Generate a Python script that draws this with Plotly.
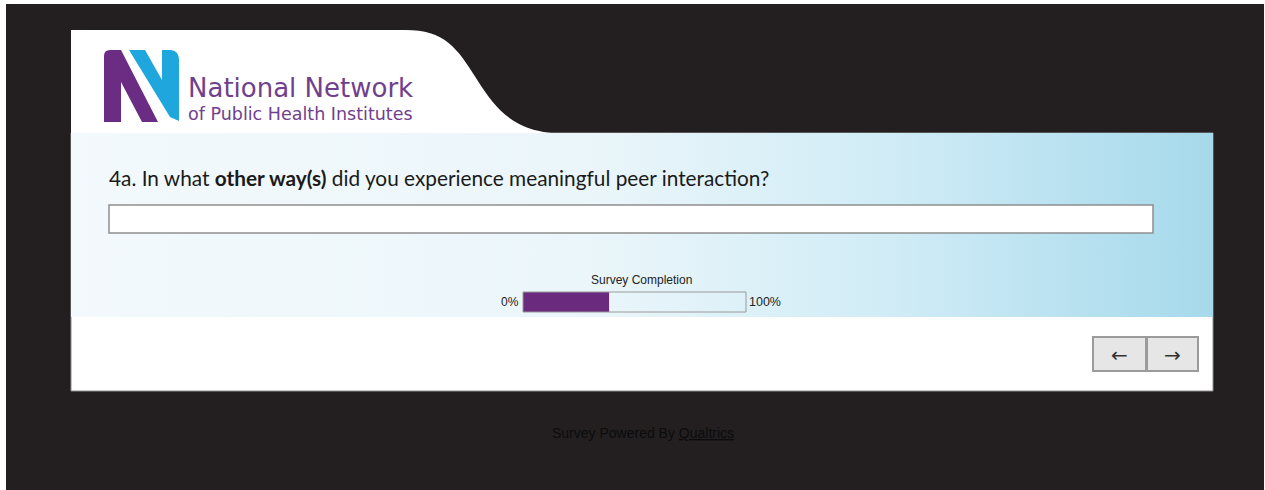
import plotly.graph_objects as go

W, H = 1265, 490

# ---- data / text ----
question_text = "4a. In what <b>other way(s)</b> did you experience meaningful peer interaction?"
logo_title = "National Network"
logo_subtitle = "of Public Health Institutes"
progress_title = "Survey Completion"
progress_labels = ["0%", "100%"]
completion_pct = [38.6]
progress_row = [0]
nav_buttons = ["\u2190", "\u2192"]
footer_text = "Survey Powered By <u>Qualtrics</u>"

DARK = "#231f20"
PURPLE = "#6a2a7e"
LOGO_PURPLE = "#6b2c83"
LOGO_BLUE = "#1fa6dc"

fig = go.Figure()

# gradient question band
fig.add_trace(go.Scatter(
    x=[71, 1213, 1213, 71, 71], y=[133, 133, 317, 317, 133],
    mode="lines", line=dict(width=0), fill="toself",
    fillgradient=dict(type="horizontal",
                      colorscale=[[0, "#f3f9fc"], [0.45, "#ebf6fa"],
                                  [0.72, "#d0ecf6"], [1, "#a6d9eb"]]),
    hoverinfo="skip", showlegend=False, xaxis="x", yaxis="y"))

# progress bar
fig.add_trace(go.Bar(
    x=completion_pct, y=progress_row, orientation="h", width=1,
    marker=dict(color=PURPLE, line=dict(width=0)),
    hoverinfo="skip", showlegend=False, xaxis="x2", yaxis="y2"))

shapes = []
# dark page
shapes.append(dict(type="rect", x0=6, x1=1264, y0=4, y1=490, fillcolor=DARK,
                   line=dict(width=0), layer="below", xref="x", yref="y"))
# white panel lower part
shapes.append(dict(type="rect", x0=71, x1=1213, y0=133, y1=391, fillcolor="white",
                   line=dict(color="#8c8c8c", width=1), layer="below", xref="x", yref="y"))
# white panel header with S-curve
shapes.append(dict(type="path",
                   path="M 71,30 L 405,30 C 445,30 457,48 476,78 C 500,116 518,134 572,134 L 71,134 Z",
                   fillcolor="white", line=dict(width=0), layer="below", xref="x", yref="y"))
# logo: purple N
shapes.append(dict(type="path",
                   path="M 104,56 Q 104,50 110,50 L 121,50 L 158,122 L 142,122 L 121,82 L 121,122 L 104,122 Z",
                   fillcolor=LOGO_PURPLE, line=dict(width=0), layer="below", xref="x", yref="y"))
# logo: blue N
shapes.append(dict(type="path",
                   path="M 129,50 L 145,50 L 162,80 L 162,50 L 171,50 Q 179,51 179,60 L 179,121 L 170,117 Z",
                   fillcolor=LOGO_BLUE, line=dict(width=0), layer="below", xref="x", yref="y"))
# text entry box
shapes.append(dict(type="rect", x0=109, x1=1153, y0=205, y1=233, fillcolor="white",
                   line=dict(color="#8e8e8e", width=1.5), layer="above", xref="x", yref="y"))
# progress bar box
shapes.append(dict(type="rect", x0=0, x1=1, y0=0, y1=1, xref="x2 domain", yref="y2 domain",
                   fillcolor="#f6fafc", line=dict(width=0), layer="below"))
shapes.append(dict(type="rect", x0=0, x1=1, y0=0, y1=1, xref="x2 domain", yref="y2 domain",
                   fillcolor="rgba(0,0,0,0)", line=dict(color="#9a9a9a", width=1), layer="above"))
# nav buttons
for x0, x1 in [(1093, 1146), (1147, 1198)]:
    shapes.append(dict(type="rect", x0=x0, x1=x1, y0=337, y1=371, fillcolor="#e6e6e6",
                       line=dict(color="#9b9b9b", width=2), layer="above", xref="x", yref="y"))

annotations = [
    dict(x=187, y=88, text=logo_title, showarrow=False, xanchor="left", yanchor="middle",
         borderpad=0, font=dict(family="DejaVu Sans", size=26, color="#70408e")),
    dict(x=187, y=114, text=logo_subtitle, showarrow=False, xanchor="left", yanchor="middle",
         borderpad=0, font=dict(family="DejaVu Sans", size=17.5, color="#70408e")),
    dict(x=107, y=177, text=question_text, showarrow=False, xanchor="left", yanchor="middle",
         font=dict(family="Lato", size=20.8, color="#1a1a1a")),
    dict(x=641, y=280, text=progress_title, showarrow=False, xanchor="center", yanchor="middle",
         font=dict(family="Liberation Sans", size=12, color="#222222")),
    dict(x=0, y=0.5, xref="x2 domain", yref="y2 domain", text=progress_labels[0], showarrow=False,
         xanchor="right", yanchor="middle", xshift=-2,
         font=dict(family="Liberation Sans", size=12, color="#222222")),
    dict(x=1, y=0.5, xref="x2 domain", yref="y2 domain", text=progress_labels[1], showarrow=False,
         xanchor="left", yanchor="middle", xshift=1,
         font=dict(family="Liberation Sans", size=12.5, color="#222222")),
    dict(x=1119.5, y=355, text=nav_buttons[0], showarrow=False, xanchor="center", yanchor="middle",
         font=dict(family="DejaVu Sans", size=20, color="#333333")),
    dict(x=1172.5, y=355, text=nav_buttons[1], showarrow=False, xanchor="center", yanchor="middle",
         font=dict(family="DejaVu Sans", size=20, color="#333333")),
    dict(x=643, y=433, text=footer_text, showarrow=False, xanchor="center", yanchor="middle",
         font=dict(family="Liberation Sans", size=14, color="#0c0c0c")),
]
for a in annotations:
    a.setdefault("xref", "x")
    a.setdefault("yref", "y")

fig.update_layout(
    width=W, height=H, margin=dict(l=0, r=0, t=0, b=0),
    paper_bgcolor="white", plot_bgcolor="rgba(0,0,0,0)",
    xaxis=dict(range=[0, W], visible=False, domain=[0, 1], fixedrange=True),
    yaxis=dict(range=[H, 0], visible=False, domain=[0, 1], fixedrange=True),
    xaxis2=dict(range=[0, 100], visible=False, domain=[523 / W, 746 / W], anchor="y2", fixedrange=True),
    yaxis2=dict(range=[-0.5, 0.5], visible=False, domain=[(H - 312) / H, (H - 292) / H],
                anchor="x2", fixedrange=True),
    shapes=shapes, annotations=annotations, showlegend=False,
)

fig.write_html("out.html", config={"displayModeBar": False},
               post_script="document.body.style.margin='0';document.body.style.overflow='hidden';")
